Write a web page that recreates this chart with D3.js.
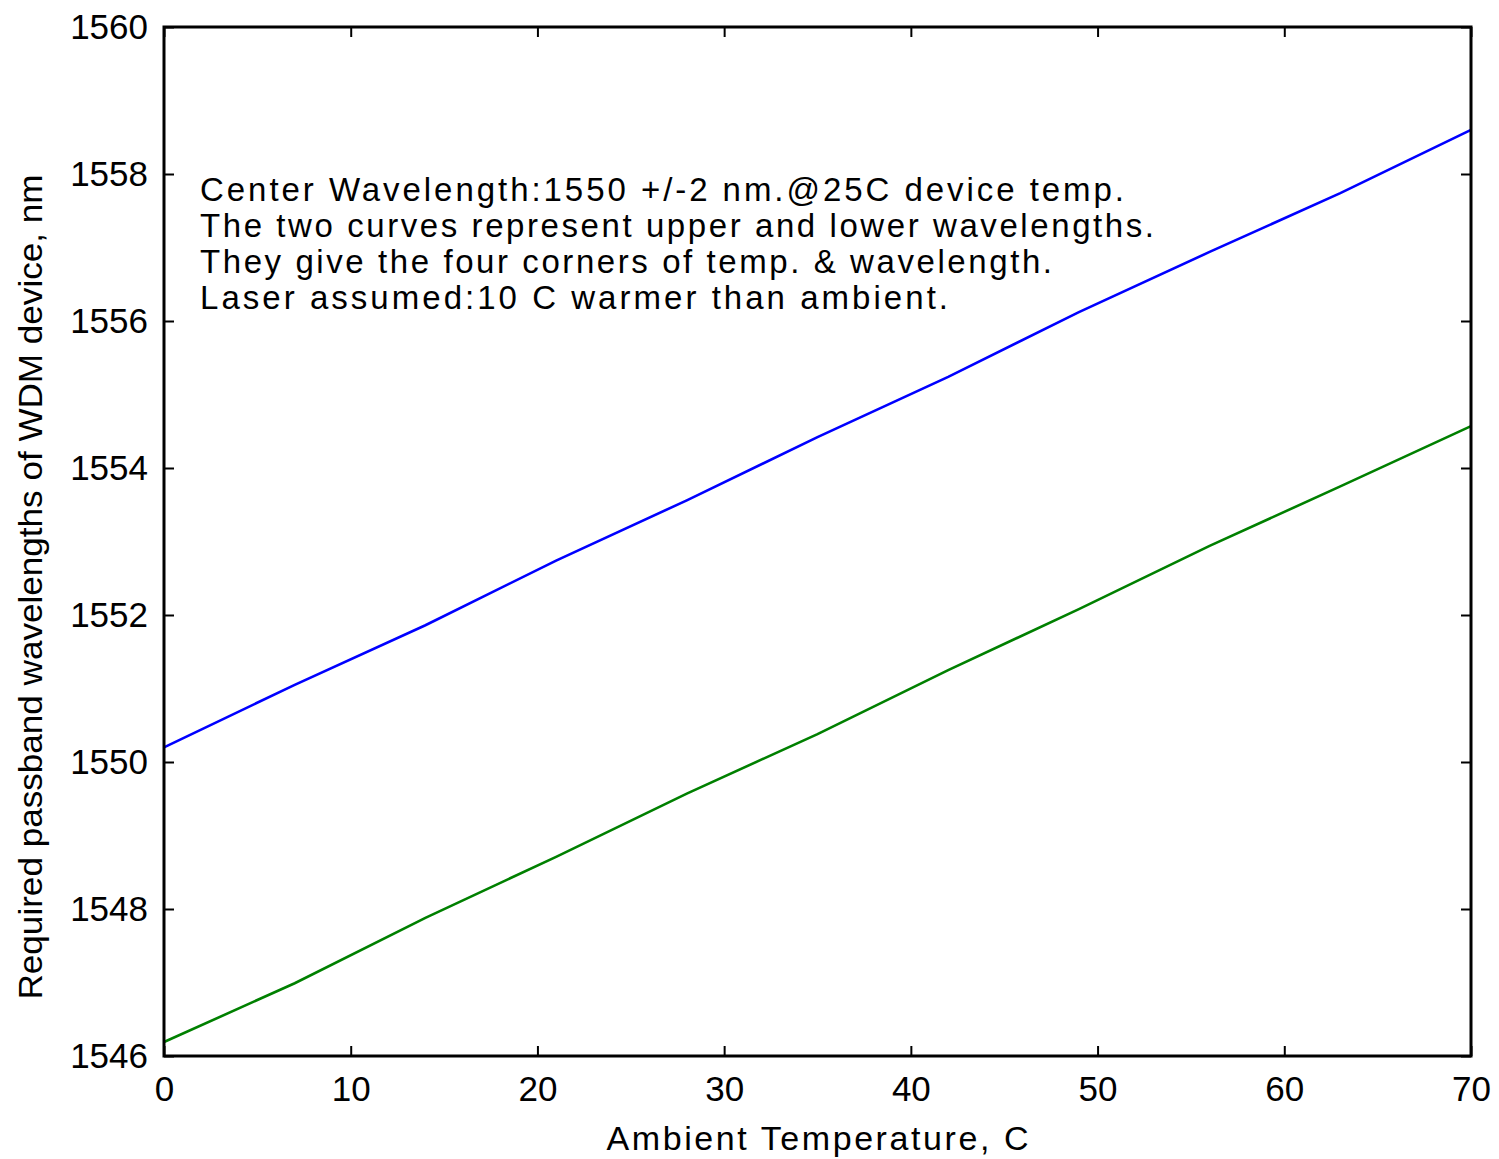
<!DOCTYPE html>
<html>
<head>
<meta charset="utf-8">
<script src="https://cdn.jsdelivr.net/npm/d3@7"></script>
<style>
  body { margin: 0; background: #fff; }
  text { font-family: "Liberation Sans", Arial, sans-serif; fill: #000; }
</style>
</head>
<body>
<svg id="chart" width="1499" height="1159"></svg>
<script>
// Ambient temperature (C)
const temps = [0, 7, 14, 21, 28, 35, 42, 49, 56, 63, 70];
// upper passband wavelength (nm)
const upper = [1550.2, 1551.05, 1551.86, 1552.74, 1553.56, 1554.42, 1555.24, 1556.12, 1556.94, 1557.74, 1558.6];
// lower passband wavelength (nm)
const lower = [1546.19, 1546.99, 1547.88, 1548.71, 1549.57, 1550.38, 1551.25, 1552.08, 1552.94, 1553.75, 1554.57];

const xTicks = [0, 10, 20, 30, 40, 50, 60, 70];
const yTicks = [1546, 1548, 1550, 1552, 1554, 1556, 1558, 1560];

const notes = [
  "Center Wavelength:1550 +/-2 nm.@25C device temp.",
  "The two curves represent upper and lower wavelengths.",
  "They give the four corners of temp. & wavelength.",
  "Laser assumed:10 C warmer than ambient."
];
const noteWidths = [924, 954, 852, 748];

const margin = { top: 27, right: 28, bottom: 103, left: 164 };
const width = 1499 - margin.left - margin.right;
const height = 1159 - margin.top - margin.bottom;

const svg = d3.select("#chart");
const g = svg.append("g").attr("transform", `translate(${margin.left},${margin.top})`);

const x = d3.scaleLinear().domain([0, 70]).range([0, width]);
const y = d3.scaleLinear().domain([1546, 1560]).range([height, 0]);

// lines
const line = d3.line().x((d, i) => x(temps[i])).y(d => y(d));
g.append("path").datum(upper).attr("d", line)
  .attr("fill", "none").attr("stroke", "#0000ff").attr("stroke-width", 2.6);
g.append("path").datum(lower).attr("d", line)
  .attr("fill", "none").attr("stroke", "#008000").attr("stroke-width", 2.6);

// axes, ticks pointing inward on all four sides
function styleAxis(sel) {
  sel.select(".domain").remove();
  sel.selectAll(".tick line").attr("stroke", "#000").attr("stroke-width", 2);
  sel.selectAll("text").style("font-size", "35px").style("font-family", "Liberation Sans, Arial, sans-serif");
}

g.append("g").attr("transform", `translate(0,${height})`)
  .call(d3.axisBottom(x).tickValues(xTicks).tickSize(-10).tickPadding(20).tickFormat(d3.format("d")))
  .call(styleAxis);
g.append("g")
  .call(d3.axisTop(x).tickValues(xTicks).tickSize(-10).tickFormat(""))
  .call(styleAxis);
g.append("g")
  .call(d3.axisLeft(y).tickValues(yTicks).tickSize(-10).tickPadding(16).tickFormat(d3.format("d")))
  .call(styleAxis);
g.append("g").attr("transform", `translate(${width},0)`)
  .call(d3.axisRight(y).tickValues(yTicks).tickSize(-10).tickFormat(""))
  .call(styleAxis);

// frame
g.append("rect").attr("width", width).attr("height", height)
  .attr("fill", "none").attr("stroke", "#000").attr("stroke-width", 3);

// annotation
notes.forEach((t, i) => {
  g.append("text")
    .attr("x", 36)
    .attr("y", 174 + i * 36)
    .attr("textLength", noteWidths[i])
    .attr("lengthAdjust", "spacing")
    .style("font-size", "33px")
    .text(t);
});

// axis labels
svg.append("text")
  .attr("x", margin.left + width / 2)
  .attr("y", 1150)
  .attr("text-anchor", "middle")
  .attr("textLength", 422)
  .attr("lengthAdjust", "spacing")
  .style("font-size", "34px")
  .text("Ambient Temperature, C");

svg.append("text")
  .attr("transform", `translate(42,587) rotate(-90)`)
  .attr("text-anchor", "middle")
  .attr("textLength", 825)
  .attr("lengthAdjust", "spacingAndGlyphs")
  .style("font-size", "34px")
  .text("Required passband wavelengths of WDM device, nm");
</script>
</body>
</html>
